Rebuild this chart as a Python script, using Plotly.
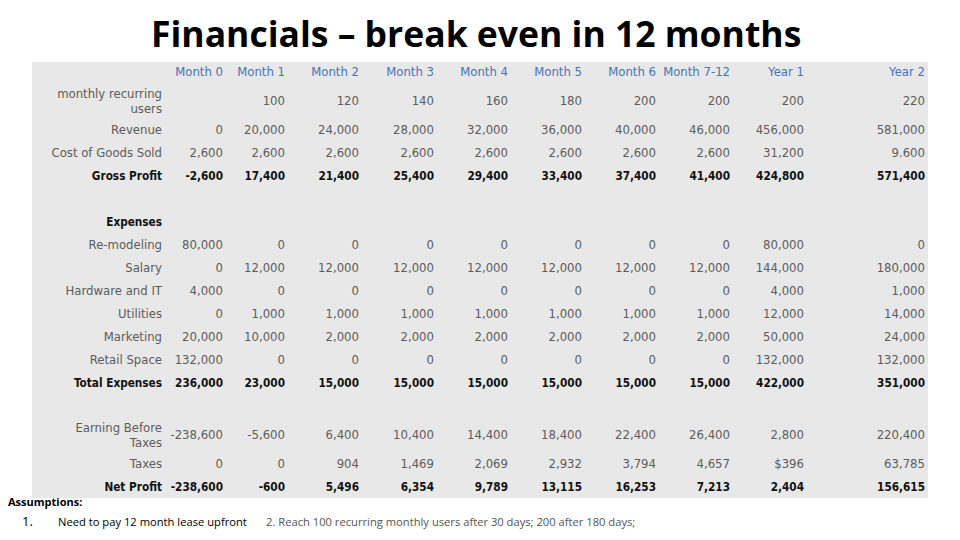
import numpy as np
import plotly.graph_objects as go

# ---------------- data ----------------
columns = ["Month 0", "Month 1", "Month 2", "Month 3", "Month 4", "Month 5",
           "Month 6", "Month 7-12", "Year 1", "Year 2"]

row_labels = ["monthly recurring<br>users", "Revenue", "Cost of Goods Sold", "Gross Profit", "",
              "Expenses", "Re-modeling", "Salary", "Hardware and IT", "Utilities", "Marketing",
              "Retail Space", "Total Expenses", "", "Earning Before<br>Taxes", "Taxes", "Net Profit"]

users = ["", "100", "120", "140", "160", "180", "200", "200", "200", "220"]
revenue = ["0", "20,000", "24,000", "28,000", "32,000", "36,000", "40,000", "46,000", "456,000", "581,000"]
cogs = ["2,600", "2,600", "2,600", "2,600", "2,600", "2,600", "2,600", "2,600", "31,200", "9.600"]
gross_profit = ["-2,600", "17,400", "21,400", "25,400", "29,400", "33,400", "37,400", "41,400", "424,800", "571,400"]
blank = [""] * 10
expenses = [""] * 10
remodeling = ["80,000", "0", "0", "0", "0", "0", "0", "0", "80,000", "0"]
salary = ["0", "12,000", "12,000", "12,000", "12,000", "12,000", "12,000", "12,000", "144,000", "180,000"]
hardware = ["4,000", "0", "0", "0", "0", "0", "0", "0", "4,000", "1,000"]
utilities = ["0", "1,000", "1,000", "1,000", "1,000", "1,000", "1,000", "1,000", "12,000", "14,000"]
marketing = ["20,000", "10,000", "2,000", "2,000", "2,000", "2,000", "2,000", "2,000", "50,000", "24,000"]
retail = ["132,000", "0", "0", "0", "0", "0", "0", "0", "132,000", "132,000"]
total_expenses = ["236,000", "23,000", "15,000", "15,000", "15,000", "15,000", "15,000", "15,000", "422,000", "351,000"]
ebt = ["-238,600", "-5,600", "6,400", "10,400", "14,400", "18,400", "22,400", "26,400", "2,800", "220,400"]
taxes = ["0", "0", "904", "1,469", "2,069", "2,932", "3,794", "4,657", "$396", "63,785"]
net_profit = ["-238,600", "-600", "5,496", "6,354", "9,789", "13,115", "16,253", "7,213", "2,404", "156,615"]

rows = [users, revenue, cogs, gross_profit, blank, expenses, remodeling, salary, hardware,
        utilities, marketing, retail, total_expenses, blank, ebt, taxes, net_profit]
bold_rows = {3, 5, 12, 16}

# ---------------- style / layout ----------------
TITLE_FONT = "Open Sans"
TABLE_FONT = "DejaVu Sans"
BOLD_FONT = "DejaVu Sans Condensed, DejaVu Sans"
NOTE_FONT = "Open Sans"
BG = "#e8e8e8"
GREY = "#5c5c5c"
BLACK = "#111111"
BLUE = "#4a72b8"
FS = 11.7

OFF = 8                      # page body margin
W, H = 960 - OFF, 540 - OFF

def px(x):
    return (x - OFF) / W

def py(y):
    return 1 - (y - OFF) / H

X0, X1 = 32, 928          # grey table box (page px)
Y0, Y1 = 62, 498
col_widths = [130, 61, 62, 74, 75, 74, 74, 74, 74, 74, 121]   # to right text edge
line_h, single_h, header_h = 12, 23, 23

col_right = X0 + np.cumsum(col_widths)
row_h = [header_h] + [single_h + (line_h if "<br>" in lab else 0) for lab in row_labels]
row_center = np.cumsum(row_h) - np.array(row_h) / 2.0   # offset from top of box

def fmt(t, i):
    return f"<b>{t}</b>" if (i in bold_rows and t) else t

row_colors = [BLACK if i in bold_rows else GREY for i in range(len(rows))]
row_fonts = [BOLD_FONT if i in bold_rows else TABLE_FONT for i in range(len(rows))]

fig = go.Figure()
# label column
fig.add_trace(go.Scatter(
    x=[col_right[0]] * len(rows), y=row_center[1:],
    text=[fmt(t, i) for i, t in enumerate(row_labels)],
    mode="text", textposition="middle left", hoverinfo="skip",
    textfont=dict(family=row_fonts, size=FS, color=row_colors), showlegend=False))
# value columns (header + values)
for c, name in enumerate(columns):
    texts = [name] + [fmt(r[c], i) for i, r in enumerate(rows)]
    fig.add_trace(go.Scatter(
        x=[col_right[c + 1]] * len(texts), y=row_center,
        text=texts, mode="text", textposition="middle left", hoverinfo="skip",
        textfont=dict(family=[TABLE_FONT] + row_fonts, size=FS, color=[BLUE] + row_colors),
        showlegend=False))

fig.update_xaxes(domain=[px(X0), px(X1)], range=[X0, X1], visible=False, fixedrange=True)
fig.update_yaxes(domain=[py(Y1), py(Y0)], range=[Y1 - Y0, 0], visible=False, fixedrange=True)

fig.update_layout(
    width=W, height=H, margin=dict(l=0, r=0, t=0, b=0),
    paper_bgcolor="white", plot_bgcolor=BG,
)

fig.add_annotation(text="<b>Financials – break even in 12 months</b>", x=px(476), y=py(33),
                   xref="paper", yref="paper", xanchor="center", yanchor="middle", showarrow=False,
                   font=dict(family=TITLE_FONT, size=35.5, color="#000000"))
fig.add_annotation(text="<b>Assumptions:</b>", x=px(6), y=py(501), xref="paper", yref="paper",
                   xanchor="left", yanchor="middle", showarrow=False,
                   font=dict(family=NOTE_FONT, size=11, color="#000000"))
fig.add_annotation(text="1.", x=px(20), y=py(521), xref="paper", yref="paper",
                   xanchor="left", yanchor="middle", showarrow=False,
                   font=dict(family=NOTE_FONT, size=13, color="#000000"))
fig.add_annotation(text="Need to pay 12 month lease upfront", x=px(56), y=py(521),
                   xref="paper", yref="paper", xanchor="left", yanchor="middle", showarrow=False,
                   font=dict(family=NOTE_FONT, size=11.2, color="#000000"))
fig.add_annotation(text="2. Reach 100 recurring monthly users after 30 days; 200 after 180 days;",
                   x=px(264), y=py(521), xref="paper", yref="paper",
                   xanchor="left", yanchor="middle", showarrow=False,
                   font=dict(family=NOTE_FONT, size=11.2, color="#555555"))

fig.write_html("out.html")
